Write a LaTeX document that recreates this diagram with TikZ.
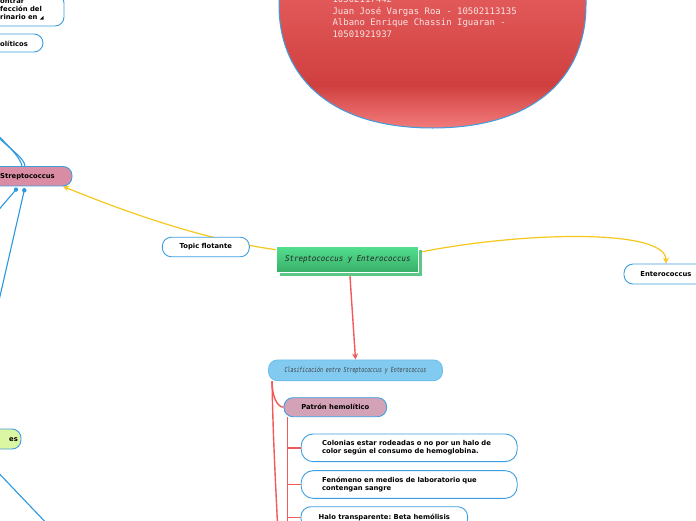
\documentclass[tikz,border=0pt]{standalone}
\usepackage{fontspec}
\setmainfont{DejaVu Sans}
\newfontfamily\monofont{DejaVu Sans Mono}
\newfontfamily\ctrfont{DejaVu Sans Mono}[FakeStretch=0.93]
\newfontfamily\clasfont{DejaVu Sans Mono}[FakeStretch=0.7]
\usetikzlibrary{arrows.meta,calc}
\pgfdeclarelayer{bg}
\pgfdeclarelayer{back}
\pgfsetlayers{back,bg,main}
\definecolor{bl}{HTML}{3D9FE0}
\definecolor{blc}{HTML}{2C98E0}
\definecolor{yl}{HTML}{F6C81E}
\definecolor{rl}{HTML}{F25A5A}
\definecolor{pinkS}{HTML}{D98CA3}
\definecolor{pinkP}{HTML}{D4A2B6}
\definecolor{clasF}{HTML}{82CAF0}
\definecolor{clasB}{HTML}{6EC0EC}
\definecolor{lime}{HTML}{DBF7A3}
\definecolor{grnT}{HTML}{52DE8E}
\definecolor{grnB}{HTML}{38AE68}
\definecolor{grnS}{HTML}{5CC888}
\definecolor{redT}{HTML}{E45C5C}
\definecolor{redM}{HTML}{D03F3F}
\definecolor{redB}{HTML}{F47E7E}
\definecolor{elltext}{HTML}{FBE3E3}
\frenchspacing
\begin{document}
\begin{tikzpicture}[x=1pt,y=-1pt,
  box/.style={draw=bl, line width=0.9pt, fill=white, rounded corners=9pt, inner sep=0pt,
    font=\bfseries\fontsize{6.8}{8.6}\selectfont, text=black},
  txt/.style={inner sep=0pt, font=\bfseries\fontsize{6.8}{8}\selectfont, text=black},
  bline/.style={draw=blc, line width=1.1pt},
  yline/.style={draw=yl, line width=1.2pt},
  rline/.style={draw=rl, line width=1.4pt},
  tip/.style={-{Stealth[length=6pt,width=6pt]}}
]
\useasboundingbox (0,0) rectangle (696,520);
\clip (0,0) rectangle (696,520);
\begin{pgfonlayer}{back}
\fill[white] (0,0) rectangle (696,520);
\end{pgfonlayer}

% ellipse
\begin{scope}
  \clip (279,-10) -- (279,5) .. controls (279,75) and (328,128) .. (432.5,128) .. controls (537,128) and (586,75) .. (586,5) -- (586,-10) -- cycle;
  \shade[top color=redT, bottom color=redM] (270,-12) rectangle (600,86);
  \shade[top color=redM, bottom color=redB] (270,85) rectangle (600,130);
\end{scope}
\draw[bl, line width=1pt] (279,-10) -- (279,5) .. controls (279,75) and (328,128) .. (432.5,128) .. controls (537,128) and (586,75) .. (586,5) -- (586,-10);
\node[inner sep=0pt, anchor=west, align=left, text=elltext, font=\monofont\fontsize{9}{11.5}\selectfont] (ell) at (332.3,16.8)
  {10502117442\\Juan José Vargas Roa - 10502113135\\Albano Enrique Chassin Iguaran -\\10501921937};

% nodes
\node[box, minimum width=124pt, minimum height=32pt] (inf) at (2,10) {};
\node[txt, anchor=west, align=left] (inft) at (0,9.5) {ontrar\\fección del\\rinario en {\fontsize{5}{5}\selectfont ◢}};
\node[box, minimum width=80pt, minimum height=18pt] (oli) at (3,43) {};
\node[txt, anchor=west] (olit) at (0,43.5) {olíticos};
\node[box, fill=pinkS, minimum width=89pt, minimum height=19.5pt] (strep) at (27.5,176.2) {Streptococcus};
\node[box, minimum width=87pt, minimum height=19.5pt] (topic) at (205.8,247) {Topic flotante};
\node[fill=grnS, minimum width=142pt, minimum height=26pt, inner sep=0pt] (ctrs) at (351.3,263.3) {};
\node[draw=white, line width=1.3pt, top color=grnT, bottom color=grnB, minimum width=142pt, minimum height=26pt, inner sep=0pt,
  font=\ctrfont\itshape\fontsize{8}{9}\selectfont, text=black!85] (ctr) at (347.8,259.8) {Streptococcus y Enterococcus};
\node[box, minimum width=84pt, minimum height=20pt] (ent) at (666,274) {Enterococcus};
\node[box, draw=clasB, fill=clasF, minimum width=174pt, minimum height=20.7pt,
  font=\clasfont\itshape\fontsize{7}{8}\selectfont, text=black!75] (clas) at (355.5,370.3) {Clasificación entre Streptococcus y Enterococcus};
\node[box, fill=pinkP, minimum width=102.7pt, minimum height=19pt] (pat) at (335.3,407.2) {Patrón hemolítico};
\node[box, rounded corners=12pt, minimum width=216pt, minimum height=27.7pt, text width=174pt, align=left] (col) at (409.2,447.8)
  {Colonias estar rodeadas o no por un halo de\\color según el consumo de hemoglobina.};
\node[box, rounded corners=12pt, minimum width=216pt, minimum height=27.7pt, text width=174pt, align=left] (fen) at (409.2,484.5)
  {Fenómeno en medios de laboratorio que\\contengan sangre};
\node[box, rounded corners=10pt, minimum width=166.7pt, minimum height=22pt] (halo) at (384.3,517.7) {Halo transparente: Beta hemólisis};
\node[box, fill=lime, minimum width=40pt, minimum height=20pt] (gr) at (1,439) {};
\node[txt, anchor=east] (grt) at (18,439.5) {es};

% off-canvas ends
\coordinate (b1) at (-20,117);
\coordinate (b2) at (-19,121);
\coordinate (d1) at ($(strep.south)+(-11.5,3.2)$);
\coordinate (d2) at ($(strep.south)+(-3.2,3.8)$);
\coordinate (c1) at (-16,227);
\coordinate (c2) at (-5,318);
\coordinate (e1) at (-10,464);
\coordinate (e2) at (52,529);
\coordinate (rb) at (278,535);
\coordinate (pv) at ($(pat.south west)+(4,118)$);
\coordinate (pt) at ($(pat.south west)+(4,0)$);
\coordinate (cs) at ($(clas.south west)+(4,0)$);

\begin{pgfonlayer}{bg}
  \draw[bline] (b1) .. controls (8,146) and (20,156) .. ($(strep.north)+(-5.5,0)$);
  \draw[bline] (b2) .. controls (10,150) and (24,157) .. ($(strep.north)+(-2.5,0)$);
  \draw[bline] (d1) -- (c1);
  \draw[bline] (d2) -- (c2);
  \draw[bline] (e1) -- (e2);
  \draw[yline, tip] (ctr.172) .. controls (220,242) and (150,222) .. (strep.-16);
  \draw[yline, tip] (ctr.6) .. controls (520,232) and (666,228) .. (ent.north);
  \draw[rline, tip] ($(ctr.south)+(2,0)$) -- (clas.north);
  \draw[rline] (cs) .. controls (272,396) and (277,407) .. (pat.west);
  \draw[rline] (cs) .. controls (273,440) and (276,490) .. (rb);
  \draw[rline] (pt) -- (pv);
  \draw[rline] (col.west -| pt) -- (col.west);
  \draw[rline] (fen.west -| pt) -- (fen.west);
  \draw[rline] (halo.west -| pt) -- (halo.west);
\end{pgfonlayer}
\fill[blc] (d1) circle (2.2pt);
\fill[blc] (d2) circle (2.2pt);
\end{tikzpicture}
\end{document}
